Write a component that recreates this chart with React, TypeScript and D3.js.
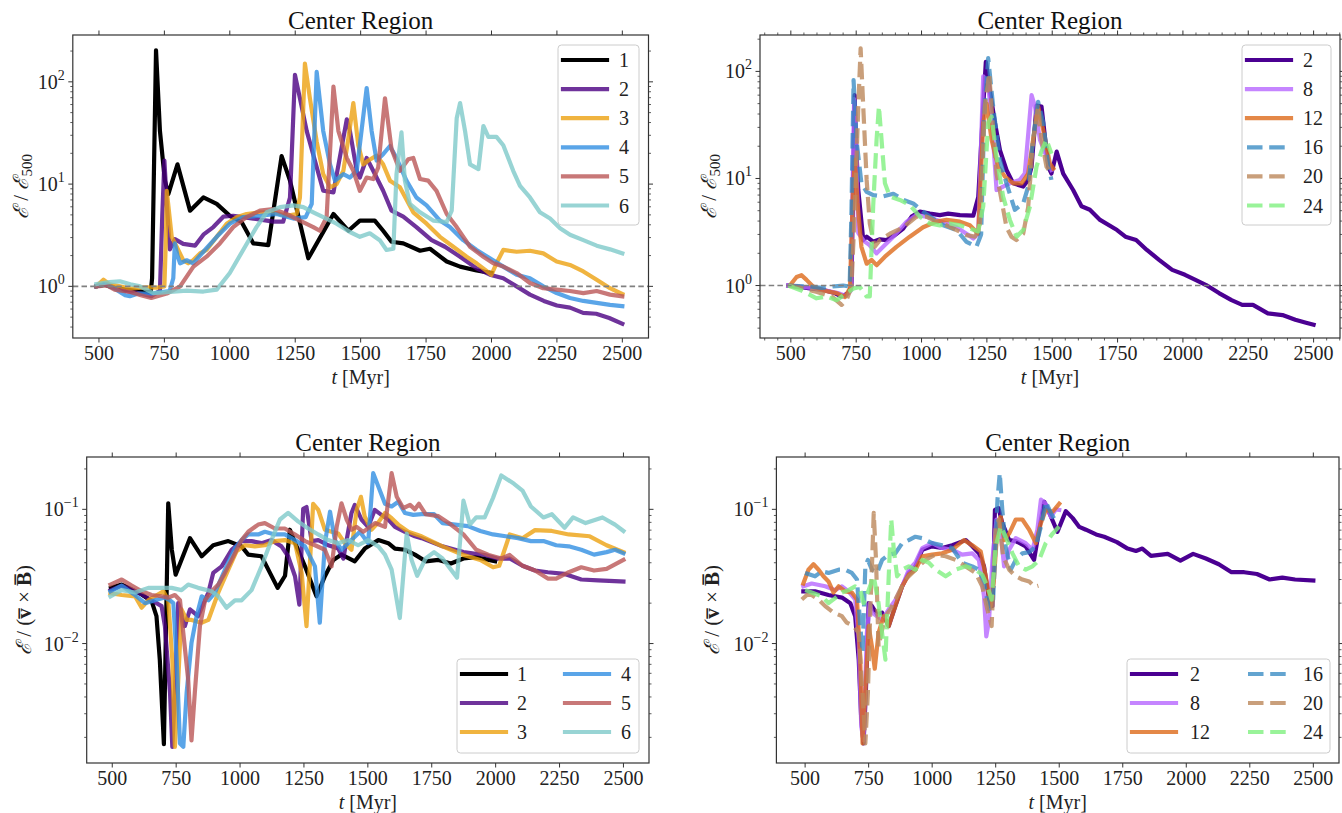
import React from "react";
import * as d3 from "d3";

type Pt = [number, number];

// ---------------- DATA ----------------
const X_TICKS = [500, 750, 1000, 1250, 1500, 1750, 2000, 2250, 2500];
const TITLE = "Center Region";

// Top-left: E / E500, series 1..6
const tl1: Pt[] = [[490,1.0],[520,1.04],[550,0.98],[600,0.93],[650,0.9],[698,0.88],[703,1.2],[718,203],[733,33],[752,10.8],[765,8.0],[800,15.6],[848,5.5],[899,7.4],[950,6.4],[1000,4.9],[1045,4.26],[1090,2.63],[1147,2.53],[1198,18.8],[1230,10.8],[1300,1.88],[1396,5.1],[1453,3.5],[1497,4.4],[1535,4.4],[1554,4.4],[1586,3.5],[1618,2.73],[1663,2.63],[1727,2.23],[1765,2.33],[1829,1.75],[1880,1.56],[1943,1.43],[2000,1.35]];
const tl2: Pt[] = [[490,1.0],[530,1.05],[560,0.97],[600,0.9],[650,0.86],[700,0.8],[715,0.85],[733,0.9],[742,5],[750,17],[760,6],[771,2.3],[790,2.9],[822,2.6],[867,2.5],[899,3.2],[937,3.8],[975,4.8],[1013,4.9],[1090,4.6],[1166,4.3],[1204,4.3],[1230,7.4],[1249,117],[1268,69],[1294,33],[1357,8.6],[1396,8.3],[1447,43],[1459,33],[1485,13.5],[1497,11.6],[1523,18],[1548,13.5],[1586,8.6],[1618,5.5],[1663,4.8],[1713,3.8],[1771,2.83],[1822,2.44],[1880,1.95],[1943,1.5],[1994,1.3],[2045,1.2],[2096,1.0],[2147,0.83],[2200,0.72],[2250,0.65],[2300,0.62],[2350,0.55],[2400,0.54],[2450,0.49],[2500,0.43]];
const tl3: Pt[] = [[490,1.0],[517,1.16],[540,1.05],[580,1.0],[620,0.95],[680,0.98],[720,0.97],[750,1.0],[756,3],[759,8.6],[778,3.05],[797,2.44],[822,1.8],[841,1.68],[860,1.8],[886,2.1],[911,2.27],[950,3.05],[988,4.1],[1026,4.75],[1064,5.1],[1115,5.3],[1166,5.3],[1217,4.9],[1255,5.1],[1268,7.4],[1287,151],[1306,69],[1332,26],[1357,12.5],[1383,9.3],[1408,10],[1434,13.5],[1453,28],[1472,62],[1491,24],[1510,15.6],[1529,17],[1561,19],[1586,15.6],[1612,10.8],[1650,9.3],[1701,5.3],[1752,4.1],[1803,3.05],[1854,2.44],[1905,1.95],[1943,1.68],[2000,1.3],[2019,1.68],[2045,2.27],[2096,2.18],[2147,2.23],[2198,2.1],[2249,1.75],[2300,1.62],[2351,1.4],[2402,1.16],[2453,0.96],[2500,0.84]];
const tl4: Pt[] = [[490,1.0],[520,1.05],[560,0.95],[600,0.82],[618,0.8],[650,0.85],[700,0.85],[740,0.88],[770,0.9],[784,1.2],[790,2.63],[800,2.0],[810,1.68],[835,1.8],[860,1.68],[899,2.18],[950,3.05],[1000,4.1],[1051,4.75],[1115,4.9],[1179,5.1],[1243,4.6],[1290,4.75],[1313,6.4],[1332,125],[1357,33],[1383,15.6],[1402,10.8],[1434,12.5],[1459,11.6],[1485,13.5],[1523,87],[1542,33],[1561,17],[1586,19.6],[1612,23.6],[1637,18],[1675,10.8],[1713,7.4],[1752,6.2],[1803,4.4],[1841,3.8],[1892,2.83],[1943,2.27],[1994,1.88],[2045,1.56],[2096,1.3],[2147,1.2],[2198,1.0],[2249,0.86],[2300,0.77],[2351,0.72],[2402,0.69],[2453,0.66],[2500,0.64]];
const tl5: Pt[] = [[490,1.0],[530,1.02],[560,0.93],[620,0.88],[660,0.82],[700,0.77],[759,0.85],[810,1.0],[861,1.56],[911,1.95],[962,2.63],[1013,3.8],[1064,4.75],[1115,5.5],[1166,5.7],[1217,5.1],[1268,4.4],[1319,3.8],[1344,3.5],[1370,4.75],[1396,90],[1415,33],[1447,18],[1472,13.5],[1497,8.6],[1523,11.6],[1548,11.2],[1567,14.5],[1593,69],[1618,22],[1650,13.5],[1682,17.5],[1701,18],[1727,11.2],[1758,10.8],[1790,8.6],[1829,5.1],[1867,3.8],[1918,2.44],[1969,1.95],[2007,1.68],[2045,1.56],[2096,1.35],[2147,1.08],[2198,0.96],[2249,0.93],[2300,0.9],[2351,0.86],[2402,0.9],[2453,0.83],[2500,0.8]];
const tl6: Pt[] = [[490,1.05],[540,1.1],[580,1.12],[620,1.05],[657,1.0],[708,0.86],[760,0.88],[835,0.91],[899,0.89],[950,0.93],[1000,1.35],[1051,2.27],[1102,3.8],[1141,5.3],[1192,5.95],[1243,6.2],[1281,5.95],[1319,5.3],[1357,4.75],[1408,4.1],[1459,3.4],[1497,3.05],[1535,3.3],[1573,2.83],[1599,2.27],[1625,2.33],[1637,12.5],[1656,32],[1669,10.8],[1688,6.4],[1727,5.3],[1777,4.4],[1829,4.26],[1848,5.5],[1867,44],[1880,62],[1899,33],[1918,15.6],[1950,14],[1969,37],[1988,29],[2019,29],[2045,24],[2083,13.5],[2109,9.6],[2147,7.4],[2185,5.3],[2224,4.6],[2262,3.7],[2300,3.2],[2351,2.83],[2402,2.5],[2453,2.3],[2500,2.1]];

// Top-right: E / E500, series 2, 8, 12, 16, 20, 24
const tr2: Pt[] = [[490,1.0],[522,0.98],[573,0.94],[624,0.91],[668,0.85],[694,0.79],[719,0.85],[732,0.98],[739,11],[744,60],[750,20],[758,7.8],[777,2.66],[790,2.86],[815,2.57],[841,2.7],[866,2.66],[898,2.96],[930,3.4],[962,4.4],[994,4.9],[1032,4.7],[1070,4.55],[1102,4.7],[1147,4.55],[1198,4.5],[1217,6.7],[1236,47],[1246,123],[1261,67],[1281,33],[1300,18.4],[1325,12],[1351,9.0],[1389,8.4],[1408,9.7],[1421,12.9],[1440,48],[1459,47],[1485,12.9],[1497,11.1],[1517,17.8],[1542,11.1],[1580,7.8],[1612,5.5],[1644,5.1],[1683,4.1],[1748,3.3],[1780,2.86],[1821,2.66],[1862,2.15],[1910,1.73],[1959,1.4],[2008,1.26],[2048,1.13],[2089,1.01],[2138,0.85],[2186,0.73],[2227,0.66],[2268,0.66],[2325,0.55],[2381,0.53],[2430,0.48],[2471,0.45],[2500,0.43]];
const tr8: Pt[] = [[490,1.0],[530,0.98],[580,0.95],[630,0.9],[680,0.85],[710,0.8],[730,0.9],[737,10],[742,55],[750,20],[758,3.1],[780,2.6],[800,2.4],[828,2.0],[853,2.3],[892,2.86],[943,3.95],[981,4.55],[1019,4.4],[1057,4.1],[1096,3.8],[1134,3.5],[1172,3.05],[1198,2.75],[1217,3.05],[1236,90],[1255,77],[1274,23],[1287,7.8],[1312,8.4],[1338,9.0],[1376,9.7],[1395,11.1],[1421,60],[1434,47],[1453,23],[1478,16],[1497,12]];
const tr12: Pt[] = [[496,1.0],[522,1.2],[541,1.25],[560,1.13],[585,0.98],[624,0.9],[675,0.85],[707,0.78],[726,0.94],[738,8],[745,15],[755,6],[770,2.3],[790,1.6],[809,1.73],[828,1.55],[860,1.86],[904,2.3],[955,2.86],[1006,3.5],[1057,3.95],[1096,4.1],[1147,3.95],[1185,3.65],[1217,3.05],[1236,33],[1249,50],[1268,23],[1293,12.9],[1319,10.4],[1351,9.0],[1383,9.0],[1408,11.1],[1427,23],[1446,47],[1466,28],[1491,13.8],[1504,12.4]];
const tr16: Pt[] = [[490,1.0],[530,0.99],[580,0.97],[620,0.95],[660,0.98],[700,1.0],[725,0.98],[732,5],[740,83],[751,23],[770,9],[790,7.5],[815,7.0],[853,6.8],[892,7.2],[930,6.3],[968,5.85],[1006,4.9],[1045,4.2],[1083,3.65],[1134,3.3],[1172,2.56],[1210,2.3],[1228,3],[1240,40],[1255,133],[1274,47],[1300,14.8],[1325,9.0],[1357,5.1],[1389,5.85],[1408,8.4],[1427,23],[1446,52],[1466,33],[1485,12.9],[1497,9.7]];
const tr20: Pt[] = [[490,1.0],[540,0.95],[600,0.87],[660,0.78],[694,0.66],[713,0.73],[732,0.97],[745,5.4],[758,47],[767,164],[777,47],[790,9.7],[802,3.8],[821,2.3],[841,2.66],[879,3.05],[930,3.5],[981,4.4],[1019,4.4],[1057,3.95],[1096,3.65],[1134,3.3],[1172,2.96],[1204,2.86],[1223,3.5],[1242,47],[1259,96],[1272,33],[1287,11.1],[1306,6.3],[1325,3.5],[1344,2.86],[1363,2.66],[1389,3.05],[1408,5.4],[1427,23],[1446,47],[1459,23],[1478,12.9],[1497,11]];
const tr24: Pt[] = [[490,1.0],[540,0.9],[598,0.76],[636,0.79],[675,0.73],[713,0.85],[740,0.94],[764,0.97],[790,0.79],[802,0.79],[815,5.5],[828,23],[837,47],[847,23],[860,9],[879,6.8],[917,6.3],[955,5.65],[994,4.4],[1032,3.8],[1070,3.65],[1108,3.8],[1147,3.65],[1185,3.4],[1217,3.2],[1236,5.5],[1255,33],[1268,38],[1287,16],[1312,6.8],[1338,4.1],[1364,2.86],[1389,3.3],[1415,5.5],[1440,12.9],[1459,18],[1478,23],[1497,17]];

// Bottom-left: E / (v x B), series 1..6
const bl1: Pt[] = [[495,0.026],[537,0.0275],[576,0.0253],[615,0.0232],[654,0.0207],[673,0.016],[686,0.0076],[702,0.00178],[719,0.111],[733,0.05],[748,0.0326],[804,0.061],[850,0.0447],[895,0.054],[954,0.058],[1006,0.053],[1032,0.046],[1084,0.0447],[1117,0.0336],[1147,0.026],[1176,0.032],[1195,0.0705],[1221,0.053],[1254,0.0376],[1299,0.0225],[1332,0.0317],[1365,0.042],[1397,0.046],[1449,0.041],[1488,0.051],[1541,0.059],[1580,0.056],[1606,0.051],[1645,0.050],[1684,0.046],[1726,0.041],[1776,0.042],[1825,0.0395],[1874,0.043],[1924,0.044],[1973,0.042],[1998,0.041]];
const bl2: Pt[] = [[493,0.025],[537,0.027],[602,0.024],[654,0.021],[693,0.019],[706,0.0135],[726,0.0043],[735,0.0017],[745,0.0043],[758,0.02],[784,0.0135],[804,0.018],[836,0.016],[876,0.024],[895,0.0336],[928,0.0376],[967,0.05],[1006,0.058],[1045,0.058],[1084,0.056],[1123,0.059],[1162,0.053],[1188,0.0447],[1215,0.0317],[1232,0.0195],[1247,0.101],[1260,0.104],[1280,0.058],[1306,0.059],[1345,0.054],[1384,0.051],[1404,0.043],[1436,0.094],[1449,0.108],[1475,0.084],[1501,0.074],[1527,0.099],[1553,0.091],[1580,0.084],[1606,0.074],[1645,0.068],[1684,0.063],[1710,0.061],[1792,0.053],[1874,0.048],[1957,0.0457],[2006,0.043],[2055,0.043],[2105,0.038],[2154,0.035],[2204,0.034],[2270,0.033],[2335,0.030],[2401,0.0296],[2500,0.029]];
const bl3: Pt[] = [[493,0.0237],[537,0.023],[589,0.0225],[615,0.0185],[641,0.021],[667,0.0225],[700,0.0245],[719,0.021],[735,0.0076],[745,0.0017],[756,0.0043],[771,0.018],[791,0.015],[810,0.015],[849,0.0143],[876,0.015],[915,0.024],[954,0.0355],[986,0.0486],[1019,0.054],[1058,0.053],[1097,0.054],[1136,0.058],[1175,0.059],[1215,0.056],[1241,0.0336],[1260,0.0135],[1286,0.11],[1306,0.099],[1332,0.0705],[1358,0.068],[1384,0.066],[1410,0.056],[1436,0.05],[1456,0.099],[1473,0.124],[1488,0.088],[1514,0.0705],[1541,0.08],[1567,0.094],[1593,0.086],[1619,0.077],[1658,0.068],[1710,0.063],[1792,0.053],[1874,0.0457],[1940,0.042],[1990,0.037],[2014,0.038],[2055,0.065],[2105,0.061],[2154,0.07],[2220,0.069],[2286,0.065],[2368,0.063],[2434,0.054],[2500,0.048]];
const bl4: Pt[] = [[493,0.0245],[537,0.027],[589,0.023],[628,0.020],[667,0.021],[706,0.022],[726,0.021],[739,0.02],[752,0.0076],[765,0.0018],[778,0.0017],[791,0.0043],[810,0.0101],[830,0.016],[850,0.0225],[876,0.021],[902,0.024],[941,0.0355],[980,0.0515],[1006,0.059],[1032,0.065],[1071,0.065],[1097,0.068],[1136,0.065],[1175,0.065],[1215,0.059],[1254,0.053],[1293,0.0376],[1312,0.0143],[1332,0.056],[1352,0.096],[1371,0.059],[1397,0.05],[1436,0.059],[1469,0.068],[1501,0.056],[1521,0.186],[1541,0.148],[1567,0.11],[1593,0.105],[1619,0.114],[1645,0.094],[1678,0.091],[1710,0.092],[1759,0.092],[1792,0.079],[1842,0.077],[1891,0.075],[1940,0.069],[1990,0.065],[2039,0.063],[2088,0.061],[2138,0.058],[2187,0.058],[2237,0.054],[2286,0.053],[2335,0.050],[2385,0.046],[2434,0.048],[2467,0.05],[2500,0.047]];
const bl5: Pt[] = [[493,0.0275],[537,0.030],[576,0.027],[615,0.0245],[654,0.023],[693,0.0225],[719,0.022],[745,0.023],[765,0.021],[778,0.012],[797,0.0054],[810,0.0019],[823,0.0043],[843,0.0135],[863,0.021],[889,0.0245],[915,0.0275],[941,0.0336],[967,0.042],[1006,0.059],[1032,0.068],[1071,0.077],[1097,0.079],[1136,0.072],[1175,0.072],[1215,0.065],[1254,0.058],[1293,0.054],[1332,0.05],[1358,0.0376],[1378,0.074],[1397,0.111],[1417,0.084],[1436,0.0705],[1456,0.074],[1482,0.068],[1508,0.074],[1528,0.079],[1567,0.074],[1593,0.186],[1613,0.124],[1639,0.102],[1665,0.108],[1684,0.1],[1700,0.11],[1726,0.092],[1776,0.089],[1825,0.077],[1874,0.065],[1924,0.05],[1973,0.0457],[2022,0.043],[2055,0.0457],[2105,0.038],[2154,0.035],[2204,0.0305],[2237,0.0305],[2286,0.034],[2335,0.037],[2385,0.035],[2434,0.036],[2500,0.042]];
const bl6: Pt[] = [[493,0.0225],[537,0.025],[589,0.024],[641,0.026],[693,0.026],[732,0.026],[771,0.025],[797,0.0275],[836,0.026],[889,0.0245],[915,0.0225],[947,0.0185],[980,0.021],[1006,0.021],[1045,0.025],[1084,0.0376],[1123,0.059],[1156,0.084],[1188,0.094],[1228,0.081],[1267,0.072],[1306,0.065],[1345,0.059],[1384,0.056],[1423,0.059],[1462,0.054],[1501,0.059],[1541,0.053],[1567,0.046],[1593,0.0355],[1625,0.0155],[1652,0.066],[1671,0.042],[1693,0.032],[1726,0.043],[1759,0.048],[1792,0.043],[1849,0.031],[1874,0.116],[1899,0.077],[1924,0.087],[1957,0.087],[1990,0.122],[2022,0.179],[2072,0.155],[2105,0.138],[2138,0.105],[2187,0.087],[2220,0.092],[2270,0.073],[2303,0.087],[2352,0.079],[2418,0.087],[2467,0.077],[2500,0.069]];

// Bottom-right: E / (v x B), series 2, 8, 12, 16, 20, 24
const br2: Pt[] = [[493,0.0245],[539,0.0245],[592,0.023],[645,0.022],[678,0.020],[697,0.016],[711,0.0076],[721,0.0027],[730,0.0018],[739,0.0043],[750,0.020],[763,0.019],[783,0.0165],[803,0.017],[829,0.0135],[855,0.019],[882,0.0267],[908,0.0336],[934,0.0376],[961,0.05],[1000,0.053],[1039,0.0515],[1079,0.054],[1132,0.059],[1158,0.053],[1184,0.047],[1204,0.0376],[1224,0.0213],[1237,0.019],[1247,0.099],[1261,0.102],[1276,0.079],[1303,0.059],[1329,0.058],[1368,0.053],[1401,0.042],[1421,0.0705],[1441,0.114],[1461,0.094],[1493,0.068],[1526,0.097],[1553,0.086],[1579,0.074],[1605,0.0705],[1645,0.065],[1677,0.0625],[1727,0.057],[1769,0.051],[1802,0.049],[1827,0.051],[1861,0.045],[1927,0.0466],[1977,0.0415],[2027,0.0466],[2077,0.043],[2128,0.039],[2178,0.034],[2228,0.034],[2278,0.033],[2328,0.030],[2378,0.031],[2428,0.030],[2500,0.0295]];
const br8: Pt[] = [[493,0.0267],[526,0.028],[579,0.0267],[618,0.025],[645,0.0267],[671,0.0245],[697,0.0213],[711,0.0107],[721,0.0024],[730,0.0019],[743,0.012],[754,0.020],[763,0.017],[783,0.016],[803,0.015],[829,0.018],[855,0.021],[882,0.0267],[908,0.0355],[934,0.040],[961,0.0515],[1000,0.056],[1039,0.0515],[1079,0.05],[1118,0.046],[1158,0.047],[1184,0.042],[1204,0.0225],[1213,0.0113],[1224,0.015],[1237,0.042],[1253,0.084],[1270,0.066],[1283,0.0376],[1303,0.05],[1329,0.061],[1368,0.056],[1395,0.05],[1414,0.0705],[1428,0.118],[1447,0.11],[1467,0.088],[1487,0.1],[1500,0.099]];
const br12: Pt[] = [[493,0.028],[513,0.0355],[533,0.039],[553,0.0355],[572,0.0317],[592,0.029],[612,0.024],[632,0.0267],[658,0.0245],[684,0.024],[704,0.0213],[717,0.0076],[726,0.0018],[737,0.0043],[750,0.0135],[763,0.0095],[774,0.0065],[789,0.012],[809,0.016],[829,0.0135],[855,0.019],[882,0.0267],[908,0.0326],[934,0.0355],[961,0.0447],[1000,0.046],[1039,0.047],[1079,0.05],[1125,0.059],[1158,0.054],[1191,0.0486],[1211,0.0317],[1230,0.019],[1243,0.03],[1257,0.0745],[1270,0.088],[1283,0.059],[1303,0.066],[1329,0.084],[1355,0.084],[1382,0.0705],[1408,0.056],[1428,0.079],[1447,0.099],[1474,0.096],[1500,0.11]];
const br16: Pt[] = [[500,0.0336],[539,0.0317],[566,0.0345],[592,0.0336],[632,0.0355],[658,0.0355],[684,0.0336],[704,0.030],[717,0.0135],[726,0.0086],[737,0.0376],[747,0.042],[763,0.0355],[783,0.0336],[803,0.042],[829,0.046],[855,0.047],[882,0.056],[908,0.059],[934,0.0625],[961,0.061],[1000,0.056],[1039,0.054],[1079,0.0515],[1118,0.040],[1158,0.0376],[1184,0.0355],[1204,0.0283],[1224,0.018],[1240,0.0213],[1257,0.118],[1266,0.186],[1276,0.099],[1289,0.053],[1309,0.0355],[1329,0.042],[1355,0.047],[1382,0.048],[1408,0.053],[1428,0.0745],[1447,0.114],[1467,0.094],[1487,0.081]];
const br20: Pt[] = [[487,0.0213],[507,0.023],[526,0.023],[553,0.0213],[579,0.019],[612,0.017],[645,0.016],[664,0.0143],[691,0.0135],[711,0.012],[726,0.0043],[737,0.0018],[747,0.0043],[757,0.019],[763,0.0376],[770,0.094],[779,0.042],[789,0.0095],[800,0.012],[816,0.016],[836,0.018],[855,0.0213],[895,0.030],[934,0.0355],[974,0.042],[1013,0.046],[1053,0.0447],[1092,0.042],[1132,0.0376],[1171,0.0336],[1197,0.0267],[1217,0.018],[1234,0.0135],[1250,0.0745],[1263,0.084],[1279,0.0447],[1303,0.0355],[1329,0.0317],[1355,0.030],[1382,0.029],[1403,0.0265],[1418,0.027]];
const br24: Pt[] = [[500,0.025],[526,0.024],[566,0.0225],[592,0.020],[618,0.0218],[645,0.024],[671,0.025],[697,0.0267],[717,0.025],[730,0.020],[750,0.025],[770,0.0317],[789,0.020],[803,0.012],[816,0.0076],[829,0.0317],[839,0.084],[849,0.05],[862,0.0317],[882,0.0355],[908,0.0376],[934,0.0355],[961,0.042],[987,0.040],[1013,0.0355],[1053,0.0317],[1092,0.0355],[1132,0.0376],[1171,0.0355],[1197,0.0326],[1217,0.0267],[1234,0.0213],[1250,0.053],[1270,0.0745],[1289,0.0625],[1316,0.047],[1342,0.0376],[1368,0.0355],[1395,0.0376],[1421,0.042],[1447,0.056],[1474,0.066],[1500,0.0745]];

const LEFT_LABELS = ["1", "2", "3", "4", "5", "6"];
const RIGHT_LABELS = ["2", "8", "12", "16", "20", "24"];

// ---------------- STYLE ----------------
type Style = { color: string; opacity: number; dashed: boolean };
const LEFT_STYLES: Style[] = [
  { color: "#000000", opacity: 1, dashed: false },
  { color: "#4b0082", opacity: 0.8, dashed: false },
  { color: "#eca110", opacity: 0.8, dashed: false },
  { color: "#318fe2", opacity: 0.8, dashed: false },
  { color: "#ba5656", opacity: 0.8, dashed: false },
  { color: "#7ec9c9", opacity: 0.8, dashed: false },
];
const RIGHT_STYLES: Style[] = [
  { color: "#4b0092", opacity: 1, dashed: false },
  { color: "#b766ff", opacity: 0.8, dashed: false },
  { color: "#dd6a1a", opacity: 0.8, dashed: false },
  { color: "#2f86c0", opacity: 0.75, dashed: true },
  { color: "#bb875a", opacity: 0.8, dashed: true },
  { color: "#80f080", opacity: 0.8, dashed: true },
];

const LW = 4.2;
const DASH = "15.5 6.7";
const FONT = "'Liberation Serif', 'DejaVu Serif', serif";

type Legend = {
  x: number; y: number; w: number; h: number;
  cols: number; rowY: number[];
  sampleX: number[]; labelX: number[];
};

type PanelCfg = {
  id: string;
  left: number; right: number; top: number; bottom: number;
  xDom: [number, number]; yDomLog: [number, number];
  series: Pt[][]; labels: string[]; styles: Style[];
  hline: boolean; minorX: boolean;
  ylabel: "ratio" | "vb"; ylabelX: number;
  legend: Legend;
};

const PANELS: PanelCfg[] = [
  {
    id: "tl", left: 72.8, right: 648.5, top: 35, bottom: 338,
    xDom: [400, 2600], yDomLog: [-0.505, 2.458],
    series: [tl1, tl2, tl3, tl4, tl5, tl6], labels: LEFT_LABELS, styles: LEFT_STYLES,
    hline: true, minorX: false, ylabel: "ratio", ylabelX: 28,
    legend: { x: 558, y: 45, w: 81, h: 180, cols: 1, rowY: [60, 89.1, 118.2, 147.3, 176.4, 205.5], sampleX: [563], labelX: [619] },
  },
  {
    id: "tr", left: 760, right: 1340, top: 35, bottom: 338,
    xDom: [382, 2601], yDomLog: [-0.49, 2.34],
    series: [tr2, tr8, tr12, tr16, tr20, tr24], labels: RIGHT_LABELS, styles: RIGHT_STYLES,
    hline: true, minorX: true, ylabel: "ratio", ylabelX: 716,
    legend: { x: 1242, y: 45, w: 89, h: 180, cols: 1, rowY: [60, 89.1, 118.2, 147.3, 176.4, 205.5], sampleX: [1247], labelX: [1303] },
  },
  {
    id: "bl", left: 86.7, right: 649, top: 457, bottom: 763,
    xDom: [400, 2600], yDomLog: [-2.89, -0.61],
    series: [bl1, bl2, bl3, bl4, bl5, bl6], labels: LEFT_LABELS, styles: LEFT_STYLES,
    hline: false, minorX: false, ylabel: "vb", ylabelX: 31,
    legend: { x: 457, y: 659, w: 182, h: 94, cols: 2, rowY: [674, 703, 732], sampleX: [462, 565], labelX: [517, 621] },
  },
  {
    id: "br", left: 776.4, right: 1339, top: 457, bottom: 763,
    xDom: [387, 2601], yDomLog: [-2.89, -0.61],
    series: [br2, br8, br12, br16, br20, br24], labels: RIGHT_LABELS, styles: RIGHT_STYLES,
    hline: false, minorX: false, ylabel: "vb", ylabelX: 719,
    legend: { x: 1127, y: 659, w: 203, h: 94, cols: 2, rowY: [674, 703, 732], sampleX: [1132, 1248], labelX: [1190, 1303] },
  },
];

function expLabel(e: number) {
  return e < 0 ? "\u2212" + Math.abs(e) : String(e);
}

function Panel({ p }: { p: PanelCfg }) {
  const x = d3.scaleLinear().domain(p.xDom).range([p.left, p.right]);
  const y = d3.scaleLog().domain([Math.pow(10, p.yDomLog[0]), Math.pow(10, p.yDomLog[1])]).range([p.bottom, p.top]);
  const line = d3.line<Pt>().x((d) => x(d[0])).y((d) => y(d[1]));

  const majors: number[] = [];
  for (let e = Math.ceil(p.yDomLog[0]); e <= Math.floor(p.yDomLog[1]); e++) majors.push(e);
  const minors: number[] = [];
  for (let e = Math.floor(p.yDomLog[0]); e <= Math.floor(p.yDomLog[1]); e++) {
    for (let m = 2; m <= 9; m++) {
      const lv = Math.log10(m) + e;
      if (lv >= p.yDomLog[0] && lv <= p.yDomLog[1]) minors.push(m * Math.pow(10, e));
    }
  }
  const minorXs: number[] = [];
  if (p.minorX) {
    for (let t = 400; t <= 2600; t += 50) if (t % 250 !== 0 && t >= p.xDom[0] && t <= p.xDom[1]) minorXs.push(t);
  }
  const cx = (p.left + p.right) / 2;
  const cy = (p.top + p.bottom) / 2;
  const clipId = "clip-" + p.id;
  const axisColor = "#333";

  const nRows = p.legend.rowY.length;

  return (
    <g>
      <defs>
        <clipPath id={clipId}>
          <rect x={p.left} y={p.top} width={p.right - p.left} height={p.bottom - p.top} />
        </clipPath>
      </defs>
      {/* data */}
      <g clipPath={`url(#${clipId})`}>
        {p.series.map((s, i) => (
          <path key={i} d={line(s) || ""} fill="none" stroke={p.styles[i].color}
            strokeOpacity={p.styles[i].opacity} strokeWidth={LW}
            strokeLinejoin="round" strokeLinecap={p.styles[i].dashed ? "butt" : "square"}
            strokeDasharray={p.styles[i].dashed ? DASH : undefined} />
        ))}
        {p.hline && (
          <line x1={p.left} x2={p.right} y1={y(1)} y2={y(1)} stroke="#808080" strokeWidth={1.6} strokeDasharray="5.5 3.2" />
        )}
      </g>
      {/* spines */}
      <rect x={p.left} y={p.top} width={p.right - p.left} height={p.bottom - p.top} fill="none" stroke={axisColor} strokeWidth={1.2} />
      {/* x ticks */}
      {X_TICKS.map((t) => (
        <g key={"xt" + t}>
          <line x1={x(t)} x2={x(t)} y1={p.bottom} y2={p.bottom + 4.5} stroke={axisColor} strokeWidth={1} />
          <line x1={x(t)} x2={x(t)} y1={p.top} y2={p.top - 4.5} stroke={axisColor} strokeWidth={1} />
          <text x={x(t)} y={p.bottom + 22} textAnchor="middle" fontSize={20} fill="#222">{t}</text>
        </g>
      ))}
      {minorXs.map((t) => (
        <g key={"xm" + t}>
          <line x1={x(t)} x2={x(t)} y1={p.bottom} y2={p.bottom + 2.5} stroke={axisColor} strokeWidth={0.8} />
          <line x1={x(t)} x2={x(t)} y1={p.top} y2={p.top - 2.5} stroke={axisColor} strokeWidth={0.8} />
        </g>
      ))}
      {/* y ticks */}
      {majors.map((e) => {
        const yy = y(Math.pow(10, e));
        return (
          <g key={"ym" + e}>
            <line x1={p.left} x2={p.left - 4.5} y1={yy} y2={yy} stroke={axisColor} strokeWidth={1} />
            <line x1={p.right} x2={p.right + 4.5} y1={yy} y2={yy} stroke={axisColor} strokeWidth={1} />
            <text x={p.left - 8} y={yy + 7} textAnchor="end" fontSize={20} fill="#222">
              10<tspan dy={-9} fontSize={14}>{expLabel(e)}</tspan>
            </text>
          </g>
        );
      })}
      {minors.map((v, i) => {
        const yy = y(v);
        return (
          <g key={"yn" + i}>
            <line x1={p.left} x2={p.left - 2.5} y1={yy} y2={yy} stroke={axisColor} strokeWidth={0.8} />
            <line x1={p.right} x2={p.right + 2.5} y1={yy} y2={yy} stroke={axisColor} strokeWidth={0.8} />
          </g>
        );
      })}
      {/* title and axis labels */}
      <text x={cx} y={p.top - 6} textAnchor="middle" fontSize={25} fill="#111">{TITLE}</text>
      <text x={cx} y={p.bottom + 46} textAnchor="middle" fontSize={20} fill="#222">
        <tspan fontStyle="italic">t</tspan> [Myr]
      </text>
      <text transform={`translate(${p.ylabelX},${cy}) rotate(-90)`} textAnchor="middle" fontSize={21} fill="#222">
        {p.ylabel === "ratio" ? (
          <>
            <tspan fontStyle="italic">{"\u2130"}</tspan>
            <tspan> / </tspan>
            <tspan fontStyle="italic">{"\u2130"}</tspan>
            <tspan dy={4} fontSize={15}>500</tspan>
          </>
        ) : (
          <>
            <tspan fontStyle="italic">{"\u2130"}</tspan>
            <tspan> / (</tspan>
            <tspan fontWeight="bold">{"v\u0305"}</tspan>
            <tspan> × </tspan>
            <tspan fontWeight="bold">{"B\u0305"}</tspan>
            <tspan>)</tspan>
          </>
        )}
      </text>
      {/* legend */}
      <rect x={p.legend.x} y={p.legend.y} width={p.legend.w} height={p.legend.h} rx={3.5} ry={3.5}
        fill="#ffffff" fillOpacity={0.8} stroke="#cccccc" strokeWidth={1} />
      {p.labels.map((lab, i) => {
        const col = Math.floor(i / nRows);
        const row = i % nRows;
        const ly = p.legend.rowY[row];
        const sx = p.legend.sampleX[col];
        const st = p.styles[i];
        return (
          <g key={"lg" + i}>
            <line x1={sx} x2={sx + 44} y1={ly} y2={ly} stroke={st.color} strokeOpacity={st.opacity}
              strokeWidth={LW} strokeDasharray={st.dashed ? DASH : undefined} strokeLinecap={st.dashed ? "butt" : "square"} />
            <text x={p.legend.labelX[col]} y={ly + 7} fontSize={20} fill="#222">{lab}</text>
          </g>
        );
      })}
    </g>
  );
}

export default function App() {
  return (
    <svg width={1342} height={813} viewBox="0 0 1342 813"
      style={{ position: "absolute", left: 0, top: 0, background: "#ffffff" }}
      fontFamily={FONT}>
      <rect x={0} y={0} width={1342} height={813} fill="#ffffff" />
      {PANELS.map((p) => <Panel key={p.id} p={p} />)}
    </svg>
  );
}
